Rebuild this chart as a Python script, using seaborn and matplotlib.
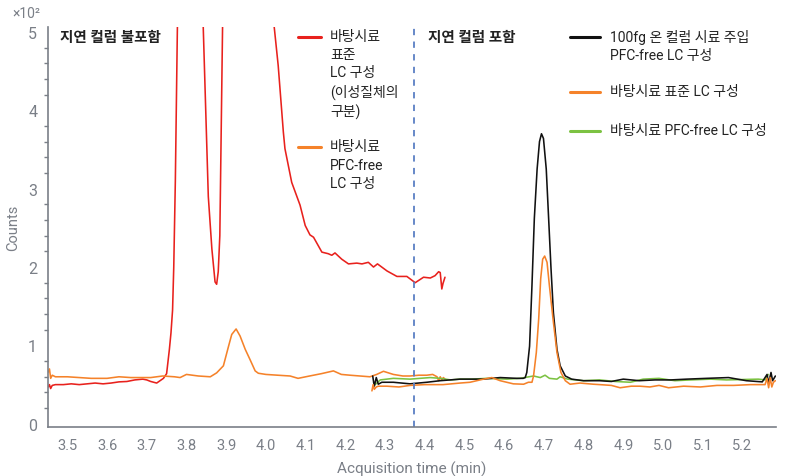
import numpy as np
import pandas as pd
import matplotlib
matplotlib.use("Agg")
import matplotlib.pyplot as plt
from matplotlib.lines import Line2D
from matplotlib.ticker import MultipleLocator
import seaborn as sns

# ---------------- data (Counts in units of 10^2) ----------------
red_t = [3.452, 3.455, 3.458, 3.462, 3.47, 3.49, 3.51, 3.53, 3.55, 3.57, 3.59, 3.61, 3.63, 3.65,
         3.67, 3.69, 3.70, 3.71, 3.725, 3.742, 3.750, 3.757, 3.761, 3.765, 3.768, 3.772, 3.777, 3.782,
         3.80, 3.82, 3.835, 3.842, 3.855, 3.864, 3.872, 3.876, 3.880, 3.884, 3.891, 3.92, 3.96,
         4.00, 4.015, 4.021, 4.031, 4.044, 4.048, 4.065, 4.086, 4.099, 4.111, 4.120, 4.141, 4.157,
         4.166, 4.174, 4.191, 4.208, 4.229, 4.242, 4.258, 4.271, 4.281, 4.305, 4.330, 4.355, 4.376,
         4.397, 4.414, 4.426, 4.435, 4.439, 4.443, 4.446, 4.451]
red_v = [0.47, 0.50, 0.45, 0.49, 0.50, 0.50, 0.51, 0.50, 0.51, 0.52, 0.51, 0.52, 0.535, 0.54,
         0.56, 0.57, 0.56, 0.54, 0.52, 0.58, 0.64, 0.95, 1.16, 1.45, 2.0, 3.1, 5.0, 6.5,
         9.5, 8.0, 6.0, 5.1, 2.9, 2.23, 1.81, 1.78, 1.94, 2.4, 5.1, 10.0, 12.0,
         8.0, 6.0, 5.06, 4.57, 3.72, 3.51, 3.08, 2.79, 2.53, 2.41, 2.38, 2.19, 2.17,
         2.15, 2.18, 2.10, 2.04, 2.05, 2.04, 2.06, 2.00, 2.04, 1.95, 1.88, 1.88, 1.80,
         1.87, 1.86, 1.89, 1.94, 1.93, 1.72, 1.79, 1.87]

orange_free_t = [3.452, 3.455, 3.458, 3.462, 3.47, 3.50, 3.53, 3.56, 3.60, 3.63, 3.66, 3.69, 3.71,
                 3.74, 3.77, 3.784, 3.80, 3.83, 3.86, 3.876, 3.893, 3.906, 3.914, 3.925, 3.935,
                 3.948, 3.960, 3.973, 3.981, 4.00, 4.03, 4.061, 4.081, 4.11, 4.14, 4.17, 4.19,
                 4.212, 4.237, 4.262, 4.279, 4.296, 4.321, 4.345, 4.363, 4.385, 4.405, 4.420,
                 4.431, 4.435, 4.439, 4.443, 4.447, 4.451]
orange_free_v = [0.66, 0.70, 0.58, 0.62, 0.60, 0.60, 0.59, 0.58, 0.58, 0.60, 0.59, 0.59, 0.59,
                 0.61, 0.60, 0.59, 0.63, 0.61, 0.60, 0.65, 0.74, 0.99, 1.14, 1.21, 1.12,
                 0.95, 0.82, 0.675, 0.645, 0.63, 0.62, 0.61, 0.58, 0.61, 0.64, 0.675, 0.63,
                 0.62, 0.61, 0.60, 0.63, 0.67, 0.63, 0.61, 0.61, 0.62, 0.62, 0.63,
                 0.60, 0.55, 0.60, 0.56, 0.59, 0.57]

orange_std_t = [4.267, 4.270, 4.273, 4.278, 4.283, 4.305, 4.335, 4.363, 4.40, 4.446, 4.489, 4.514,
                4.548, 4.569, 4.590, 4.623, 4.649, 4.661, 4.670, 4.674, 4.681, 4.687, 4.692, 4.697,
                4.702, 4.708, 4.714, 4.723, 4.733, 4.743, 4.754, 4.766, 4.791, 4.825, 4.841, 4.87,
                4.892, 4.92, 4.942, 4.967, 4.99, 5.014, 5.052, 5.094, 5.136, 5.178, 5.22, 5.257,
                5.262, 5.266, 5.270, 5.274, 5.278, 5.283]
orange_std_v = [0.42, 0.50, 0.44, 0.47, 0.48, 0.48, 0.47, 0.49, 0.50, 0.50, 0.52, 0.53,
                0.57, 0.59, 0.55, 0.51, 0.505, 0.53, 0.53, 0.61, 0.91, 1.34, 1.85, 2.10,
                2.14, 2.06, 1.76, 1.34, 0.91, 0.655, 0.55, 0.505, 0.52, 0.505, 0.50, 0.49,
                0.46, 0.48, 0.48, 0.47, 0.49, 0.46, 0.48, 0.47, 0.49, 0.49, 0.50, 0.50,
                0.58, 0.46, 0.59, 0.47, 0.53, 0.55]

black_t = [4.269, 4.273, 4.278, 4.283, 4.292, 4.321, 4.363, 4.405, 4.439, 4.489, 4.547, 4.590,
           4.632, 4.648, 4.653, 4.657, 4.664, 4.670, 4.676, 4.683, 4.689, 4.694, 4.699, 4.706,
           4.712, 4.718, 4.724, 4.733, 4.741, 4.754, 4.770, 4.800, 4.84, 4.87, 4.90, 4.94, 4.98,
           5.02, 5.06, 5.11, 5.165, 5.21, 5.25, 5.262, 5.266, 5.272, 5.276, 5.283]
black_v = [0.61, 0.48, 0.59, 0.505, 0.53, 0.53, 0.51, 0.53, 0.55, 0.57, 0.57, 0.59,
           0.58, 0.58, 0.59, 0.655, 0.99, 1.76, 2.62, 3.25, 3.60, 3.70, 3.64, 3.25,
           2.62, 1.98, 1.42, 0.95, 0.74, 0.61, 0.57, 0.55, 0.55, 0.54, 0.57, 0.55, 0.56,
           0.56, 0.57, 0.58, 0.59, 0.55, 0.535, 0.63, 0.52, 0.655, 0.55, 0.61]

green_t = [4.271, 4.275, 4.288, 4.321, 4.363, 4.388, 4.414, 4.439, 4.465, 4.489, 4.52, 4.556,
           4.607, 4.640, 4.674, 4.691, 4.703, 4.714, 4.733, 4.741, 4.76, 4.80, 4.84, 4.88,
           4.918, 4.95, 4.99, 5.03, 5.07, 5.12, 5.16, 5.20, 5.24, 5.258, 5.265]
green_v = [0.53, 0.50, 0.56, 0.58, 0.57, 0.58, 0.59, 0.58, 0.56, 0.57, 0.57, 0.58,
           0.57, 0.58, 0.61, 0.59, 0.62, 0.58, 0.57, 0.60, 0.57, 0.55, 0.56, 0.54,
           0.53, 0.57, 0.58, 0.55, 0.56, 0.57, 0.56, 0.565, 0.57, 0.56, 0.63]

x_ticks = [3.5, 3.6, 3.7, 3.8, 3.9, 4.0, 4.1, 4.2, 4.3, 4.4, 4.5, 4.6, 4.7, 4.8, 4.9, 5.0, 5.1, 5.2]
y_ticks = [0, 1, 2, 3, 4, 5]
divider_t = 4.373

left_labels = ["바탕시료\n표준\nLC 구성\n(이성질체의\n구분)", "바탕시료\nPFC-free\nLC 구성"]
right_labels = ["100fg 온 컬럼 시료 주입\nPFC-free LC 구성", "바탕시료 표준 LC 구성",
                "바탕시료 PFC-free LC 구성"]
section_labels = ["지연 컬럼 불포함", "지연 컬럼 포함"]

# ---------------- style ----------------
RED = "#e8211d"
ORANGE = "#f5822a"
GREEN = "#7cc242"
BLACK = "#111111"
GRAY = "#7a7f87"
DASH = "#5a7fc4"

sns.set_style("white")
plt.rcParams["font.family"] = ["Roboto", "Noto Sans CJK KR", "DejaVu Sans"]

fig = plt.figure(figsize=(7.9, 4.77), dpi=100)
ax = fig.add_axes([0.0611, 0.102, 0.9209, 0.839])

def draw(t, v, color):
    df = pd.DataFrame({"t": t, "v": v})
    sns.lineplot(data=df, x="t", y="v", ax=ax, color=color, lw=1.15,
                 estimator=None, sort=False)

draw(red_t, red_v, RED)
draw(orange_free_t, orange_free_v, ORANGE)
draw(green_t, green_v, GREEN)
draw(black_t, black_v, BLACK)
draw(orange_std_t, orange_std_v, ORANGE)

ax.axvline(divider_t, color=DASH, lw=1.3, ls=(0, (3.5, 3.5)))

ax.set_xlim(3.452, 5.284)
ax.set_ylim(-0.045, 5.06)
ax.set_xticks(x_ticks)
ax.set_xticklabels([f"{x:.1f}" for x in x_ticks])
ax.set_yticks(y_ticks)
ax.set_yticklabels([str(y) for y in y_ticks])
ax.yaxis.set_minor_locator(MultipleLocator(0.2))

for s in ["top", "right"]:
    ax.spines[s].set_visible(False)
for s in ["left", "bottom"]:
    ax.spines[s].set_color(GRAY)
    ax.spines[s].set_linewidth(1.2)

ax.tick_params(axis="x", which="major", length=3, width=1, color=GRAY, labelcolor=GRAY,
               labelsize=10.5, direction="out", pad=5)
ax.tick_params(axis="y", which="major", length=5, width=1, color=GRAY, labelcolor=GRAY,
               labelsize=11.5, direction="out", pad=3)
ax.tick_params(axis="y", which="minor", left=True, length=3, width=1, color=GRAY)

ax.set_xlabel("Acquisition time (min)", fontsize=11, color=GRAY, labelpad=6)
ax.set_ylabel("Counts", fontsize=10.5, color=GRAY)
ax.yaxis.set_label_coords(-0.039, 0.5)

fig.text(12 / 790, 1 - 14 / 477, "×10²", fontsize=10, color=GRAY, ha="left", va="center")

# section labels
TXT = "#222222"
ax.text(60 / 790, 1 - 38 / 477, section_labels[0], transform=fig.transFigure,
        fontsize=10.5, fontweight="bold", color=TXT, ha="left", va="center")
ax.text(428 / 790, 1 - 38 / 477, section_labels[1], transform=fig.transFigure,
        fontsize=10.5, fontweight="bold", color=TXT, ha="left", va="center")

# custom legends (handle aligned with first text line)
def legend_entry(x0, x1, xt, y, color, label):
    yf = 1 - y / 477
    fig.add_artist(Line2D([x0 / 790, x1 / 790], [yf, yf], color=color, lw=2.2,
                          transform=fig.transFigure))
    fig.text(xt / 790, 1 - (y - 7.5) / 477, label, fontsize=10, color=TXT, ha="left",
             va="top", linespacing=1.38)

legend_entry(298, 321, 330, 37.5, RED, left_labels[0])
legend_entry(298, 321, 330, 148, ORANGE, left_labels[1])
legend_entry(570, 600, 610, 37.5, BLACK, right_labels[0])
legend_entry(570, 600, 610, 92.5, ORANGE, right_labels[1])
legend_entry(570, 600, 610, 132, GREEN, right_labels[2])

fig.savefig("out.png", dpi=100)
